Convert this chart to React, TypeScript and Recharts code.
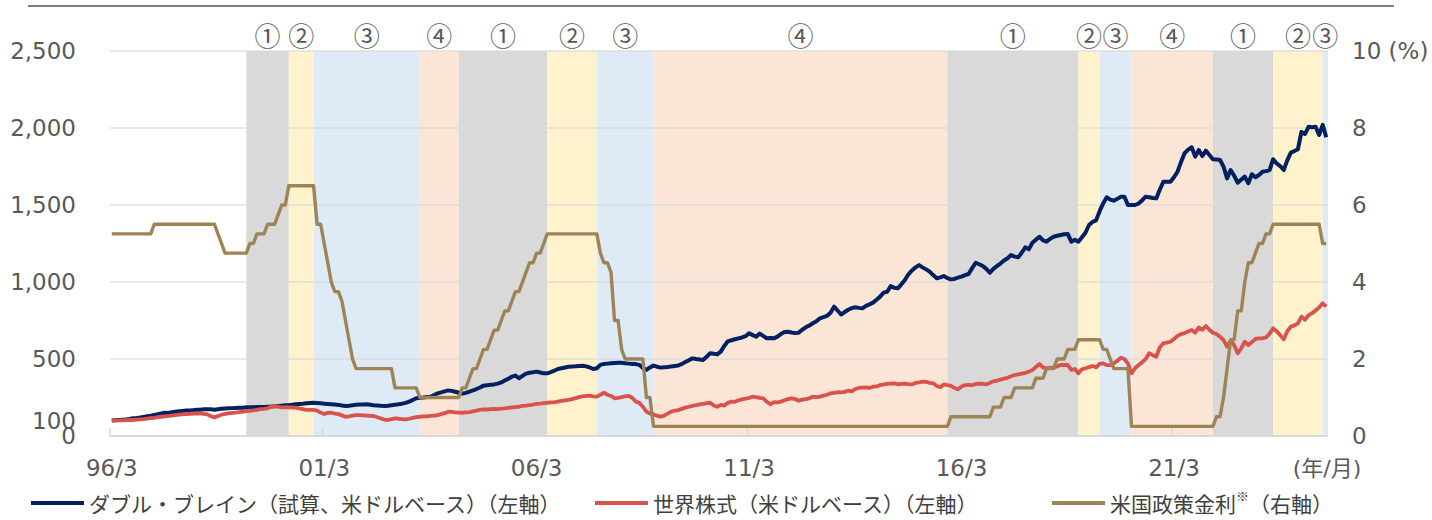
import React from "react";
import {
  LineChart,
  Line,
  XAxis,
  YAxis,
  ReferenceArea,
  ReferenceLine,
  Legend,
} from "recharts";

// ---------------- DATA ----------------
const START_YEAR = 1996;
const START_MONTH = 3;

// ダブル・ブレイン（試算、米ドルベース） monthly, 1996/3 - 2024/10 (rows = calendar years)
const doubleBrain: number[][] = [
  [100, 102, 104, 106, 108, 111, 115, 117, 120, 124],
  [128, 131, 136, 142, 147, 151, 150, 155, 158, 161, 163, 165],
  [166, 168, 170, 171, 173, 174, 173, 170, 174, 177, 179, 180],
  [181, 182, 183, 184, 186, 186, 187, 188, 188, 189, 190, 191],
  [193, 195, 197, 199, 200, 203, 206, 208, 209, 212, 214, 216],
  [214, 212, 210, 208, 206, 204, 202, 198, 195, 197, 200, 203],
  [204, 205, 206, 203, 200, 198, 196, 195, 197, 200, 203, 206],
  [210, 215, 223, 234, 245, 248, 250, 253, 255, 265, 277, 283],
  [290, 296, 293, 287, 281, 275, 280, 288, 296, 305, 315, 327],
  [330, 333, 335, 340, 348, 360, 372, 385, 392, 375, 390, 405],
  [411, 414, 418, 412, 408, 407, 415, 424, 435, 440, 445, 450],
  [452, 453, 455, 456, 452, 445, 435, 440, 462, 468, 470, 472],
  [474, 476, 475, 472, 470, 468, 467, 462, 442, 429, 445, 457],
  [450, 444, 446, 448, 452, 455, 458, 468, 480, 492, 504, 500],
  [497, 494, 515, 537, 534, 530, 548, 585, 615, 622, 628, 634],
  [640, 648, 667, 655, 645, 665, 650, 634, 636, 634, 645, 662],
  [675, 677, 672, 668, 671, 690, 706, 718, 732, 745, 764, 772],
  [780, 800, 840, 815, 789, 805, 820, 830, 836, 832, 829, 845],
  [855, 866, 885, 905, 931, 937, 974, 962, 959, 985, 1013, 1050],
  [1075, 1095, 1110, 1095, 1082, 1067, 1045, 1024, 1030, 1039, 1025, 1017],
  [1020, 1028, 1035, 1045, 1052, 1090, 1125, 1115, 1104, 1085, 1060, 1085],
  [1104, 1120, 1140, 1154, 1175, 1165, 1160, 1190, 1225, 1212, 1255, 1275],
  [1294, 1270, 1262, 1280, 1294, 1300, 1305, 1310, 1312, 1262, 1275, 1262],
  [1290, 1320, 1370, 1390, 1400, 1460, 1510, 1550, 1535, 1528, 1540, 1554],
  [1554, 1500, 1500, 1500, 1510, 1530, 1554, 1550, 1545, 1543, 1600, 1651],
  [1651, 1651, 1680, 1716, 1780, 1836, 1860, 1875, 1814, 1857, 1818, 1853],
  [1825, 1797, 1795, 1792, 1749, 1673, 1727, 1690, 1645, 1665, 1684, 1641],
  [1700, 1680, 1695, 1716, 1720, 1727, 1797, 1770, 1753, 1727, 1790, 1840],
  [1850, 1862, 1975, 1961, 2008, 2005, 2008, 1955, 2020, 1940],
];

// 世界株式（米ドルベース）
const worldStocks: number[][] = [
  [100, 101, 102, 101, 103, 104, 104, 106, 108, 110],
  [113, 116, 118, 122, 125, 128, 130, 133, 136, 139, 141, 143],
  [144, 146, 145, 147, 143, 140, 128, 121, 130, 138, 143, 147],
  [150, 152, 155, 158, 162, 164, 166, 170, 174, 176, 180, 190],
  [195, 190, 186, 188, 186, 185, 184, 180, 175, 169, 170, 169],
  [165, 152, 143, 150, 151, 146, 142, 134, 125, 128, 133, 135],
  [136, 134, 133, 131, 130, 122, 114, 106, 104, 110, 115, 112],
  [110, 108, 112, 118, 122, 125, 127, 128, 130, 133, 136, 142],
  [148, 158, 156, 154, 152, 151, 153, 155, 160, 165, 170, 173],
  [172, 174, 176, 175, 178, 180, 183, 186, 188, 190, 195, 197],
  [200, 204, 208, 210, 214, 216, 218, 220, 224, 228, 232, 234],
  [240, 246, 252, 258, 260, 262, 258, 256, 268, 281, 268, 260],
  [245, 248, 252, 258, 260, 248, 223, 215, 190, 158, 145, 140],
  [132, 125, 132, 145, 158, 164, 168, 176, 184, 190, 196, 200],
  [205, 208, 214, 216, 198, 190, 202, 198, 215, 223, 222, 232],
  [238, 242, 248, 255, 252, 248, 245, 222, 206, 220, 218, 223],
  [232, 240, 245, 240, 229, 236, 240, 245, 255, 253, 256, 262],
  [268, 277, 280, 284, 283, 286, 295, 290, 305, 312, 314, 316],
  [312, 320, 322, 331, 335, 338, 340, 342, 336, 338, 340, 337],
  [335, 345, 348, 353, 352, 345, 342, 325, 316, 335, 331, 325],
  [312, 303, 322, 331, 332, 330, 338, 340, 338, 335, 345, 355],
  [360, 366, 372, 378, 388, 396, 400, 405, 410, 418, 428, 448],
  [468, 446, 440, 443, 446, 452, 461, 462, 461, 430, 435, 407],
  [433, 440, 447, 455, 446, 468, 472, 460, 461, 472, 488, 508],
  [500, 470, 407, 440, 461, 478, 500, 537, 525, 515, 575, 602],
  [607, 612, 630, 650, 662, 668, 678, 688, 671, 705, 690, 714],
  [690, 671, 662, 645, 623, 580, 618, 590, 537, 570, 612, 591],
  [610, 630, 634, 634, 640, 665, 699, 680, 655, 628, 680, 710],
  [718, 732, 775, 755, 785, 797, 815, 835, 862, 840],
];

// 米国政策金利（%）
const usPolicyRate: number[][] = [
  [5.25, 5.25, 5.25, 5.25, 5.25, 5.25, 5.25, 5.25, 5.25, 5.25],
  [5.25, 5.25, 5.5, 5.5, 5.5, 5.5, 5.5, 5.5, 5.5, 5.5, 5.5, 5.5],
  [5.5, 5.5, 5.5, 5.5, 5.5, 5.5, 5.5, 5.5, 5.25, 5.0, 4.75, 4.75],
  [4.75, 4.75, 4.75, 4.75, 4.75, 5.0, 5.0, 5.25, 5.25, 5.25, 5.5, 5.5],
  [5.5, 5.75, 6.0, 6.0, 6.5, 6.5, 6.5, 6.5, 6.5, 6.5, 6.5, 6.5],
  [5.5, 5.5, 5.0, 4.5, 4.0, 3.75, 3.75, 3.5, 3.0, 2.5, 2.0, 1.75],
  [1.75, 1.75, 1.75, 1.75, 1.75, 1.75, 1.75, 1.75, 1.75, 1.75, 1.25, 1.25],
  [1.25, 1.25, 1.25, 1.25, 1.25, 1.0, 1.0, 1.0, 1.0, 1.0, 1.0, 1.0],
  [1.0, 1.0, 1.0, 1.0, 1.0, 1.25, 1.25, 1.5, 1.75, 1.75, 2.0, 2.25],
  [2.25, 2.5, 2.75, 2.75, 3.0, 3.25, 3.25, 3.5, 3.75, 3.75, 4.0, 4.25],
  [4.5, 4.5, 4.75, 4.75, 5.0, 5.25, 5.25, 5.25, 5.25, 5.25, 5.25, 5.25],
  [5.25, 5.25, 5.25, 5.25, 5.25, 5.25, 5.25, 5.25, 4.75, 4.5, 4.5, 4.25],
  [3.0, 3.0, 2.25, 2.0, 2.0, 2.0, 2.0, 2.0, 2.0, 1.0, 1.0, 0.25],
  [0.25, 0.25, 0.25, 0.25, 0.25, 0.25, 0.25, 0.25, 0.25, 0.25, 0.25, 0.25],
  [0.25, 0.25, 0.25, 0.25, 0.25, 0.25, 0.25, 0.25, 0.25, 0.25, 0.25, 0.25],
  [0.25, 0.25, 0.25, 0.25, 0.25, 0.25, 0.25, 0.25, 0.25, 0.25, 0.25, 0.25],
  [0.25, 0.25, 0.25, 0.25, 0.25, 0.25, 0.25, 0.25, 0.25, 0.25, 0.25, 0.25],
  [0.25, 0.25, 0.25, 0.25, 0.25, 0.25, 0.25, 0.25, 0.25, 0.25, 0.25, 0.25],
  [0.25, 0.25, 0.25, 0.25, 0.25, 0.25, 0.25, 0.25, 0.25, 0.25, 0.25, 0.25],
  [0.25, 0.25, 0.25, 0.25, 0.25, 0.25, 0.25, 0.25, 0.25, 0.25, 0.25, 0.5],
  [0.5, 0.5, 0.5, 0.5, 0.5, 0.5, 0.5, 0.5, 0.5, 0.5, 0.5, 0.75],
  [0.75, 0.75, 1.0, 1.0, 1.0, 1.25, 1.25, 1.25, 1.25, 1.25, 1.25, 1.5],
  [1.5, 1.5, 1.75, 1.75, 1.75, 2.0, 2.0, 2.0, 2.25, 2.25, 2.25, 2.5],
  [2.5, 2.5, 2.5, 2.5, 2.5, 2.5, 2.25, 2.25, 2.0, 1.75, 1.75, 1.75],
  [1.75, 1.75, 0.25, 0.25, 0.25, 0.25, 0.25, 0.25, 0.25, 0.25, 0.25, 0.25],
  [0.25, 0.25, 0.25, 0.25, 0.25, 0.25, 0.25, 0.25, 0.25, 0.25, 0.25, 0.25],
  [0.25, 0.25, 0.5, 0.5, 1.0, 1.75, 2.5, 2.5, 3.25, 3.25, 4.0, 4.5],
  [4.5, 4.75, 5.0, 5.0, 5.25, 5.25, 5.5, 5.5, 5.5, 5.5, 5.5, 5.5],
  [5.5, 5.5, 5.5, 5.5, 5.5, 5.5, 5.5, 5.5, 5.0, 5.0],
];

const xTickIndices = [0, 60, 120, 180, 240, 300];
const xTickLabels = ["96/3", "01/3", "06/3", "11/3", "16/3", "21/3"];
const xUnitLabel = "(年/月)";
const leftTicks = [0, 100, 500, 1000, 1500, 2000, 2500];
const leftGridValues = [500, 1000, 1500, 2000, 2500];
const rightTicks = [0, 2, 4, 6, 8, 10];

// 局面 (phase) boundaries: start month and phase number
const phaseStarts = [
  "1999/5", "2000/5", "2000/12", "2003/6", "2004/5", "2006/6", "2007/8", "2008/12",
  "2015/11", "2018/12", "2019/6", "2020/3", "2022/2", "2023/7", "2024/9",
];
const phaseLabels = ["①", "②", "③", "④", "①", "②", "③", "④", "①", "②", "③", "④", "①", "②", "③"];

const seriesNames = [
  "ダブル・ブレイン（試算、米ドルベース）（左軸）",
  "世界株式（米ドルベース）（左軸）",
  "米国政策金利",
];
const rateNameMark = "※";
const rateNameSuffix = "（右軸）";

// ---------------- STYLE ----------------
const NAVY = "#002060";
const RED = "#d9534c";
const GOLD = "#9e8354";
const PHASE_FILL: Record<string, string> = {
  "①": "#d9d9d9",
  "②": "#fff2cc",
  "③": "#deebf7",
  "④": "#fbe5d6",
};
const TICK_COLOR = "#595959";
const NUM_FONT = "'DejaVu Sans', Verdana, sans-serif";
const JP_FONT = "'Noto Sans CJK JP', 'Noto Sans', sans-serif";

// ---------------- BUILD ----------------
const navy = doubleBrain.flat();
const red = worldStocks.flat();
const rate = usPolicyRate.flat();
const data = navy.map((v, i) => ({ i, navy: v, red: red[i], rate: rate[i] }));
const X_MIN = -0.5;
const X_MAX = data.length - 0.5;

const monthIndex = (s: string) => {
  const [y, m] = s.split("/").map(Number);
  return (y - START_YEAR) * 12 + (m - START_MONTH);
};

const phases = phaseStarts.map((s, k) => ({
  x1: monthIndex(s),
  x2: k + 1 < phaseStarts.length ? monthIndex(phaseStarts[k + 1]) : X_MAX,
  label: phaseLabels[k],
}));

const fmtThousands = (v: number) => v.toLocaleString("en-US");

const XTick = (props: any) => {
  const { x, y, payload } = props;
  const k = xTickIndices.indexOf(payload.value);
  const halfSlot = 1.77;
  return (
    <g>
      <line
        x1={x - halfSlot}
        x2={x - halfSlot}
        y1={y - 24}
        y2={y - 32}
        stroke="#d9d9d9"
        strokeWidth={1.5}
      />
      <text
        x={x}
        y={y}
        dy="0.71em"
        textAnchor="middle"
        fill={TICK_COLOR}
        fontSize={23}
        fontFamily={NUM_FONT}
      >
        {k >= 0 ? xTickLabels[k] : ""}
      </text>
    </g>
  );
};

const LegendContent = () => {
  const colors = [NAVY, RED, GOLD];
  const lefts = [31, 595, 1052];
  return (
    <div style={{ position: "relative", width: 1432, height: 34 }}>
      {seriesNames.map((name, k) => (
        <div
          key={k}
          style={{
            position: "absolute",
            left: lefts[k],
            top: 0,
            height: 34,
            display: "flex",
            alignItems: "center",
            whiteSpace: "nowrap",
            fontFamily: JP_FONT,
            fontSize: 21,
            color: "#404040",
          }}
        >
          <span
            style={{
              display: "inline-block",
              width: 53,
              height: 4,
              background: colors[k],
              marginRight: 5,
            }}
          />
          <span>{name}</span>
          {k === 2 && (
            <>
              <span style={{ fontSize: 13, position: "relative", top: -8 }}>{rateNameMark}</span>
              <span>{rateNameSuffix}</span>
            </>
          )}
        </div>
      ))}
    </div>
  );
};

export default function App() {
  return (
    <div
      style={{
        position: "absolute",
        left: 0,
        top: 0,
        width: 1432,
        height: 520,
        background: "#ffffff",
        overflow: "hidden",
      }}
    >
      <div
        style={{
          position: "absolute",
          left: 28,
          top: 5,
          width: 1366,
          height: 2,
          background: "#7f7f7f",
        }}
      />
      <LineChart
        width={1432}
        height={520}
        data={data}
        margin={{ top: 51, right: 44, bottom: 0, left: 0 }}
      >
        <XAxis
          dataKey="i"
          type="number"
          domain={[X_MIN, X_MAX]}
          ticks={xTickIndices}
          interval={0}
          tick={<XTick />}
          tickLine={false}
          tickSize={0}
          tickMargin={24}
          height={50}
          axisLine={{ stroke: "#d9d9d9", strokeWidth: 2 }}
          allowDataOverflow
        />
        <YAxis
          yAxisId="left"
          width={110}
          domain={[0, 2500]}
          ticks={leftTicks}
          interval={0}
          tickFormatter={fmtThousands}
          axisLine={false}
          tickLine={false}
          tickSize={0}
          tickMargin={34}
          tick={{ fill: TICK_COLOR, fontSize: 23, fontFamily: NUM_FONT }}
          allowDataOverflow
        />
        <YAxis
          yAxisId="right"
          orientation="right"
          width={60}
          domain={[0, 10]}
          ticks={rightTicks}
          interval={0}
          tickFormatter={(v: number) => (v === 10 ? "10 (%)" : String(v))}
          axisLine={false}
          tickLine={false}
          tickSize={0}
          tickMargin={24}
          tick={{ fill: TICK_COLOR, fontSize: 23, fontFamily: NUM_FONT, textAnchor: "start" }}
          allowDataOverflow
        />
        {phases.map((p, k) => (
          <ReferenceArea
            key={`pa${k}`}
            yAxisId="left"
            x1={p.x1}
            x2={p.x2}
            y1={0}
            y2={2500}
            fill={PHASE_FILL[p.label]}
            fillOpacity={1}
            stroke="none"
            ifOverflow="visible"
            label={{
              value: p.label,
              position: "top",
              offset: 5,
              fill: TICK_COLOR,
              fontSize: 26,
              fontFamily: JP_FONT,
            }}
          />
        ))}
        {leftGridValues.map((v) => (
          <ReferenceLine
            key={`g${v}`}
            yAxisId="left"
            y={v}
            stroke="#d9d9d9"
            strokeWidth={1.3}
            strokeOpacity={0.8}
          />
        ))}
        <Line
          yAxisId="left"
          type="linear"
          dataKey="navy"
          stroke={NAVY}
          strokeWidth={4}
          strokeLinejoin="round"
          dot={false}
          activeDot={false}
          isAnimationActive={false}
        />
        <Line
          yAxisId="left"
          type="linear"
          dataKey="red"
          stroke={RED}
          strokeWidth={3.8}
          strokeLinejoin="round"
          dot={false}
          activeDot={false}
          isAnimationActive={false}
        />
        <Line
          yAxisId="right"
          type="linear"
          dataKey="rate"
          stroke={GOLD}
          strokeWidth={3.4}
          strokeLinejoin="round"
          dot={false}
          activeDot={false}
          isAnimationActive={false}
        />
        <text
          x={1327}
          y={476}
          textAnchor="middle"
          fill={TICK_COLOR}
          fontSize={22}
          fontFamily={`${NUM_FONT.split(",")[0]}, ${JP_FONT}`}
        >
          {xUnitLabel}
        </text>
        <Legend verticalAlign="bottom" content={<LegendContent />} />
      </LineChart>
    </div>
  );
}
